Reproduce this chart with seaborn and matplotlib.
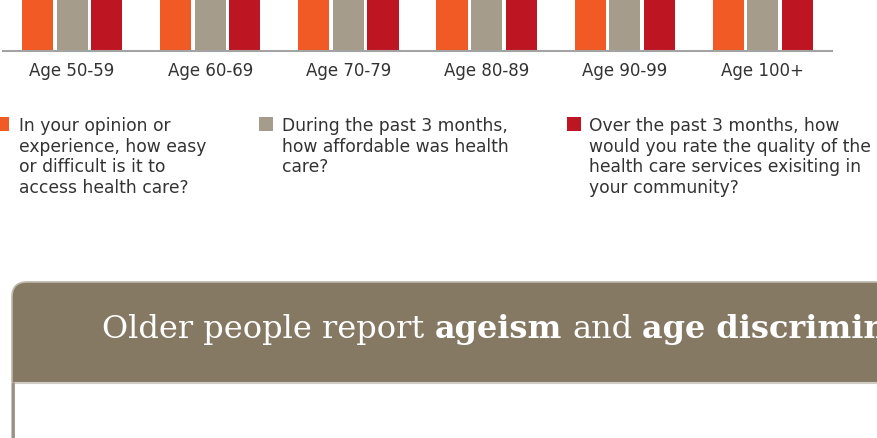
import matplotlib
matplotlib.use("Agg")
import matplotlib.pyplot as plt
from matplotlib.patches import FancyBboxPatch, Rectangle
from matplotlib.lines import Line2D
from matplotlib.transforms import IdentityTransform
import numpy as np
import pandas as pd
import seaborn as sns

# ---- data -------------------------------------------------------------
age_groups = ["Age 50-59", "Age 60-69", "Age 70-79", "Age 80-89", "Age 90-99", "Age 100+"]
series_keys = ["access", "affordability", "quality"]
access_scores = [72, 70, 69, 66, 63, 61]
affordability_scores = [64, 62, 61, 59, 57, 55]
quality_scores = [68, 67, 65, 63, 60, 58]
questions = [
    ["In your opinion or", "experience, how easy", "or difficult is it to", "access health care?"],
    ["During the past 3 months,", "how affordable was health", "care?"],
    ["Over the past 3 months, how", "would you rate the quality of the",
     "health care services exisiting in", "your community?"],
]
series_colors = ["#F15A24", "#A69C8B", "#BE1522"]
title_parts = [("Older people report", "normal"), ("ageism", "bold"),
               ("and", "normal"), ("age discrimination", "bold")]

# ---- style ------------------------------------------------------------
sns.set_theme(style="white")
plt.rcParams["font.family"] = ["DejaVu Sans"]
TEXT = "#333333"
AXIS = "#A3A3A3"

W, H = 877, 438
fig = plt.figure(figsize=(W / 100, H / 100), dpi=100)
fig.patch.set_facecolor("white")
px = IdentityTransform()

df = pd.DataFrame({
    "age": np.repeat(age_groups, 3),
    "series": series_keys * len(age_groups),
    "score": np.ravel(np.column_stack([access_scores, affordability_scores, quality_scores])),
})

# bar panel: only its baseline strip falls inside the canvas
ax = fig.add_axes([3 / W, 1 - 51 / H, (832 - 3) / W, 1.2])
ax.patch.set_alpha(0)
sns.barplot(data=df, x="age", y="score", hue="series", hue_order=series_keys,
            order=age_groups, palette=series_colors, saturation=1,
            width=0.75, gap=0.1, linewidth=0, legend=False, ax=ax)
ax.set_xlim(-0.5, len(age_groups) - 0.5)
ax.set_ylim(0, 100)
ax.set_xlabel("")
ax.set_ylabel("")
ax.set_yticks([])
sns.despine(ax=ax, left=True, right=True, top=True)
ax.spines["bottom"].set_color(AXIS)
ax.spines["bottom"].set_linewidth(1.5)
ax.spines["bottom"].set_zorder(5)
ax.tick_params(axis="x", which="major", length=0, pad=8, labelsize=12, labelcolor=TEXT)
ax.set_xticks(np.arange(-0.5, len(age_groups), 1.0), minor=True)
ax.tick_params(axis="x", which="minor", direction="in", length=5, width=1.2, color=AXIS)

# ---- legend -----------------------------------------------------------
sq = 14
legend_sq_x = [-5, 259, 567]
legend_txt_x = [19, 282, 589]
first_base = 131
line_step = 20.7
for color, sx, tx, lines in zip(series_colors, legend_sq_x, legend_txt_x, questions):
    fig.add_artist(Rectangle((sx, H - 131), sq, sq, transform=px,
                             facecolor=color, edgecolor="none"))
    for i, line in enumerate(lines):
        fig.text(tx / W, 1 - (first_base + i * line_step) / H, line,
                 fontsize=12.3, color=TEXT, va="baseline", ha="left")

# ---- section banner ---------------------------------------------------
top, bottom_band, left = 282, 383, 12
fig.add_artist(FancyBboxPatch((left, H - 700), 1200, 700 - top,
                              boxstyle="round,pad=0,rounding_size=15",
                              transform=px, facecolor="#867964",
                              edgecolor="#BDB7AC", linewidth=1.2))
fig.add_artist(Rectangle((left + 1, H - 700), 1200, 700 - bottom_band,
                         transform=px, facecolor="white", edgecolor="none"))
fig.add_artist(Line2D([left, 1200], [H - bottom_band, H - bottom_band],
                      transform=px, color="#CFCBC4", linewidth=1.5))
fig.add_artist(Line2D([left + 0.5, left + 0.5], [H - bottom_band, -10],
                      transform=px, color="#9A9182", linewidth=2))

renderer = fig.canvas.get_renderer()
title_kw = dict(fontsize=23, color="white", family="DejaVu Serif", va="baseline", ha="left")
probe_a = fig.text(0, 0, "xx", **title_kw)
probe_b = fig.text(0, 0, "x x", **title_kw)
space_w = probe_b.get_window_extent(renderer).width - probe_a.get_window_extent(renderer).width
probe_a.remove()
probe_b.remove()
x = 102
for part, weight in title_parts:
    t = fig.text(x / W, 1 - 338 / H, part, fontweight=weight, **title_kw)
    x = t.get_window_extent(renderer).x1 + space_w

fig.savefig("out.png", dpi=100, facecolor="white")
